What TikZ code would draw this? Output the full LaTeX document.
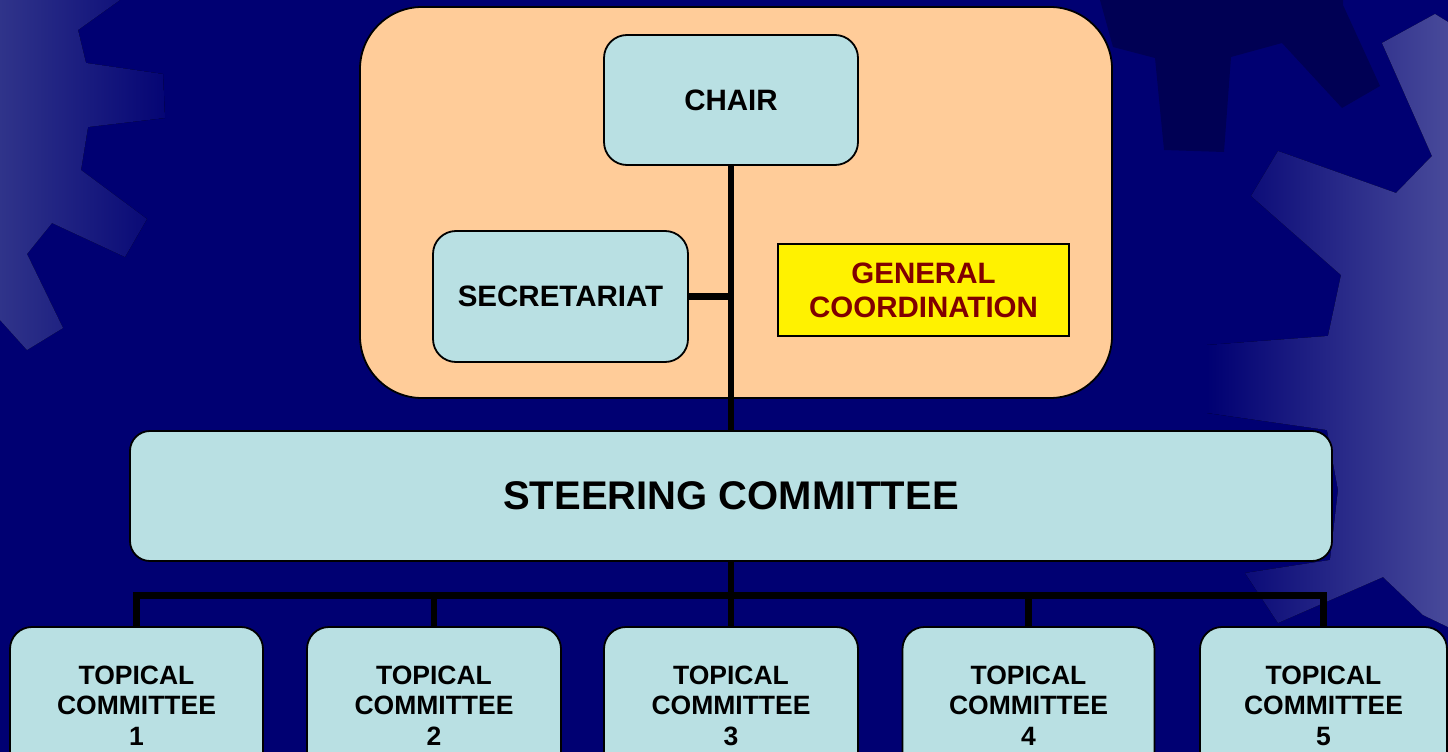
\documentclass[tikz,border=0pt]{standalone}
\usepackage{fontspec}
\setmainfont{Liberation Sans}
\definecolor{navybg}{RGB}{0,0,114}
\definecolor{navydark}{RGB}{0,0,84}
\definecolor{gearL}{RGB}{48,52,138}
\definecolor{gearR}{RGB}{72,74,154}
\definecolor{boxcyan}{RGB}{185,224,227}
\definecolor{peach}{RGB}{255,204,153}
\definecolor{gcred}{RGB}{128,0,0}
\tikzset{
  cbox/.style={draw=black, line width=1.8pt, fill=boxcyan, rounded corners=23pt,
    inner sep=0pt, align=center, font=\bfseries\fontsize{29.5}{34}\selectfont},
  tbox/.style={cbox, rounded corners=22pt, minimum width=253pt, minimum height=157pt,
    font=\bfseries\fontsize{26.5}{30.5}\selectfont},
  link/.style={draw=black, line width=6.5pt, line join=miter}
}
\begin{document}
\begin{tikzpicture}[x=1pt,y=-1pt]
\clip (0,0) rectangle (1448,752);
\fill[navybg] (0,0) rectangle (1448,752);
% background gears
\fill[navydark] (1100,0) -- (1113,47) -- (1155,58) -- (1164,150) -- (1224,152) -- (1231,57)
  -- (1282,43) -- (1342,108) -- (1380,86) -- (1343,5) -- (1343,0) -- cycle;
\fill[left color=gearL, right color=navybg!90!gearL] (0,0) -- (120,0) -- (78,30) -- (86,63) -- (163,74)
  -- (165,118) -- (88,127) -- (81,170) -- (147,219) -- (125,257) -- (52,223) -- (27,254)
  -- (63,328) -- (27,350) -- (0,320) -- cycle;
\fill[left color=navybg, right color=gearR] (1448,22) -- (1435,14) -- (1382,43) -- (1432,156)
  -- (1396,193) -- (1278,151) -- (1251,196) -- (1341,275) -- (1328,336) -- (1207,345)
  -- (1207,413) -- (1327,430) -- (1338,490) -- (1330,560) -- (1245,573) -- (1278,623)
  -- (1383,577) -- (1423,615) -- (1448,627) -- cycle;
% container
\node[draw=black, line width=1.8pt, fill=peach, rounded corners=62pt, inner sep=0pt,
  minimum width=752pt, minimum height=391pt] (cont) at (736,202.5) {};
\node[cbox, minimum width=254pt, minimum height=130pt] (chair) at (731,100) {CHAIR};
\node[cbox, minimum width=255pt, minimum height=131pt] (secr) at (560.5,296.5) {SECRETARIAT};
\node[draw=black, line width=1.8pt, fill=yellow, inner sep=0pt, align=center,
  minimum width=291pt, minimum height=92pt, text=gcred,
  font=\bfseries\fontsize{29.5}{34}\selectfont] (gc) at (923.5,290) {GENERAL\\COORDINATION};
\node[cbox, rounded corners=20pt, minimum width=1202pt, minimum height=130pt,
  font=\bfseries\fontsize{40}{46}\selectfont] (steer) at (731,496) {STEERING COMMITTEE};
% topical committees
\node[tbox] (tc1) at (136.5,705.5) {TOPICAL\\COMMITTEE\\1};
\node[tbox, minimum width=254pt] (tc2) at (434,705.5) {TOPICAL\\COMMITTEE\\2};
\node[tbox, minimum width=254pt] (tc3) at (731,705.5) {TOPICAL\\COMMITTEE\\3};
\node[tbox, minimum width=252pt] (tc4) at (1028.5,705.5) {TOPICAL\\COMMITTEE\\4};
\node[tbox, minimum width=247pt] (tc5) at (1323.5,705.5) {TOPICAL\\COMMITTEE\\5};
\coordinate (bus) at (731,595.5);
% connectors
\draw[link] (chair.south) -- (steer.north);
\draw[link] (secr.east) -- (secr.east -| chair.south);
\draw[link] (steer.south) -- (bus);
\draw[link] (tc1.north) |- (bus) -| (tc5.north);
\draw[link] (tc2.north) -- (tc2.north |- bus);
\draw[link] (tc3.north) -- (bus);
\draw[link] (tc4.north) -- (tc4.north |- bus);
\end{tikzpicture}
\end{document}
